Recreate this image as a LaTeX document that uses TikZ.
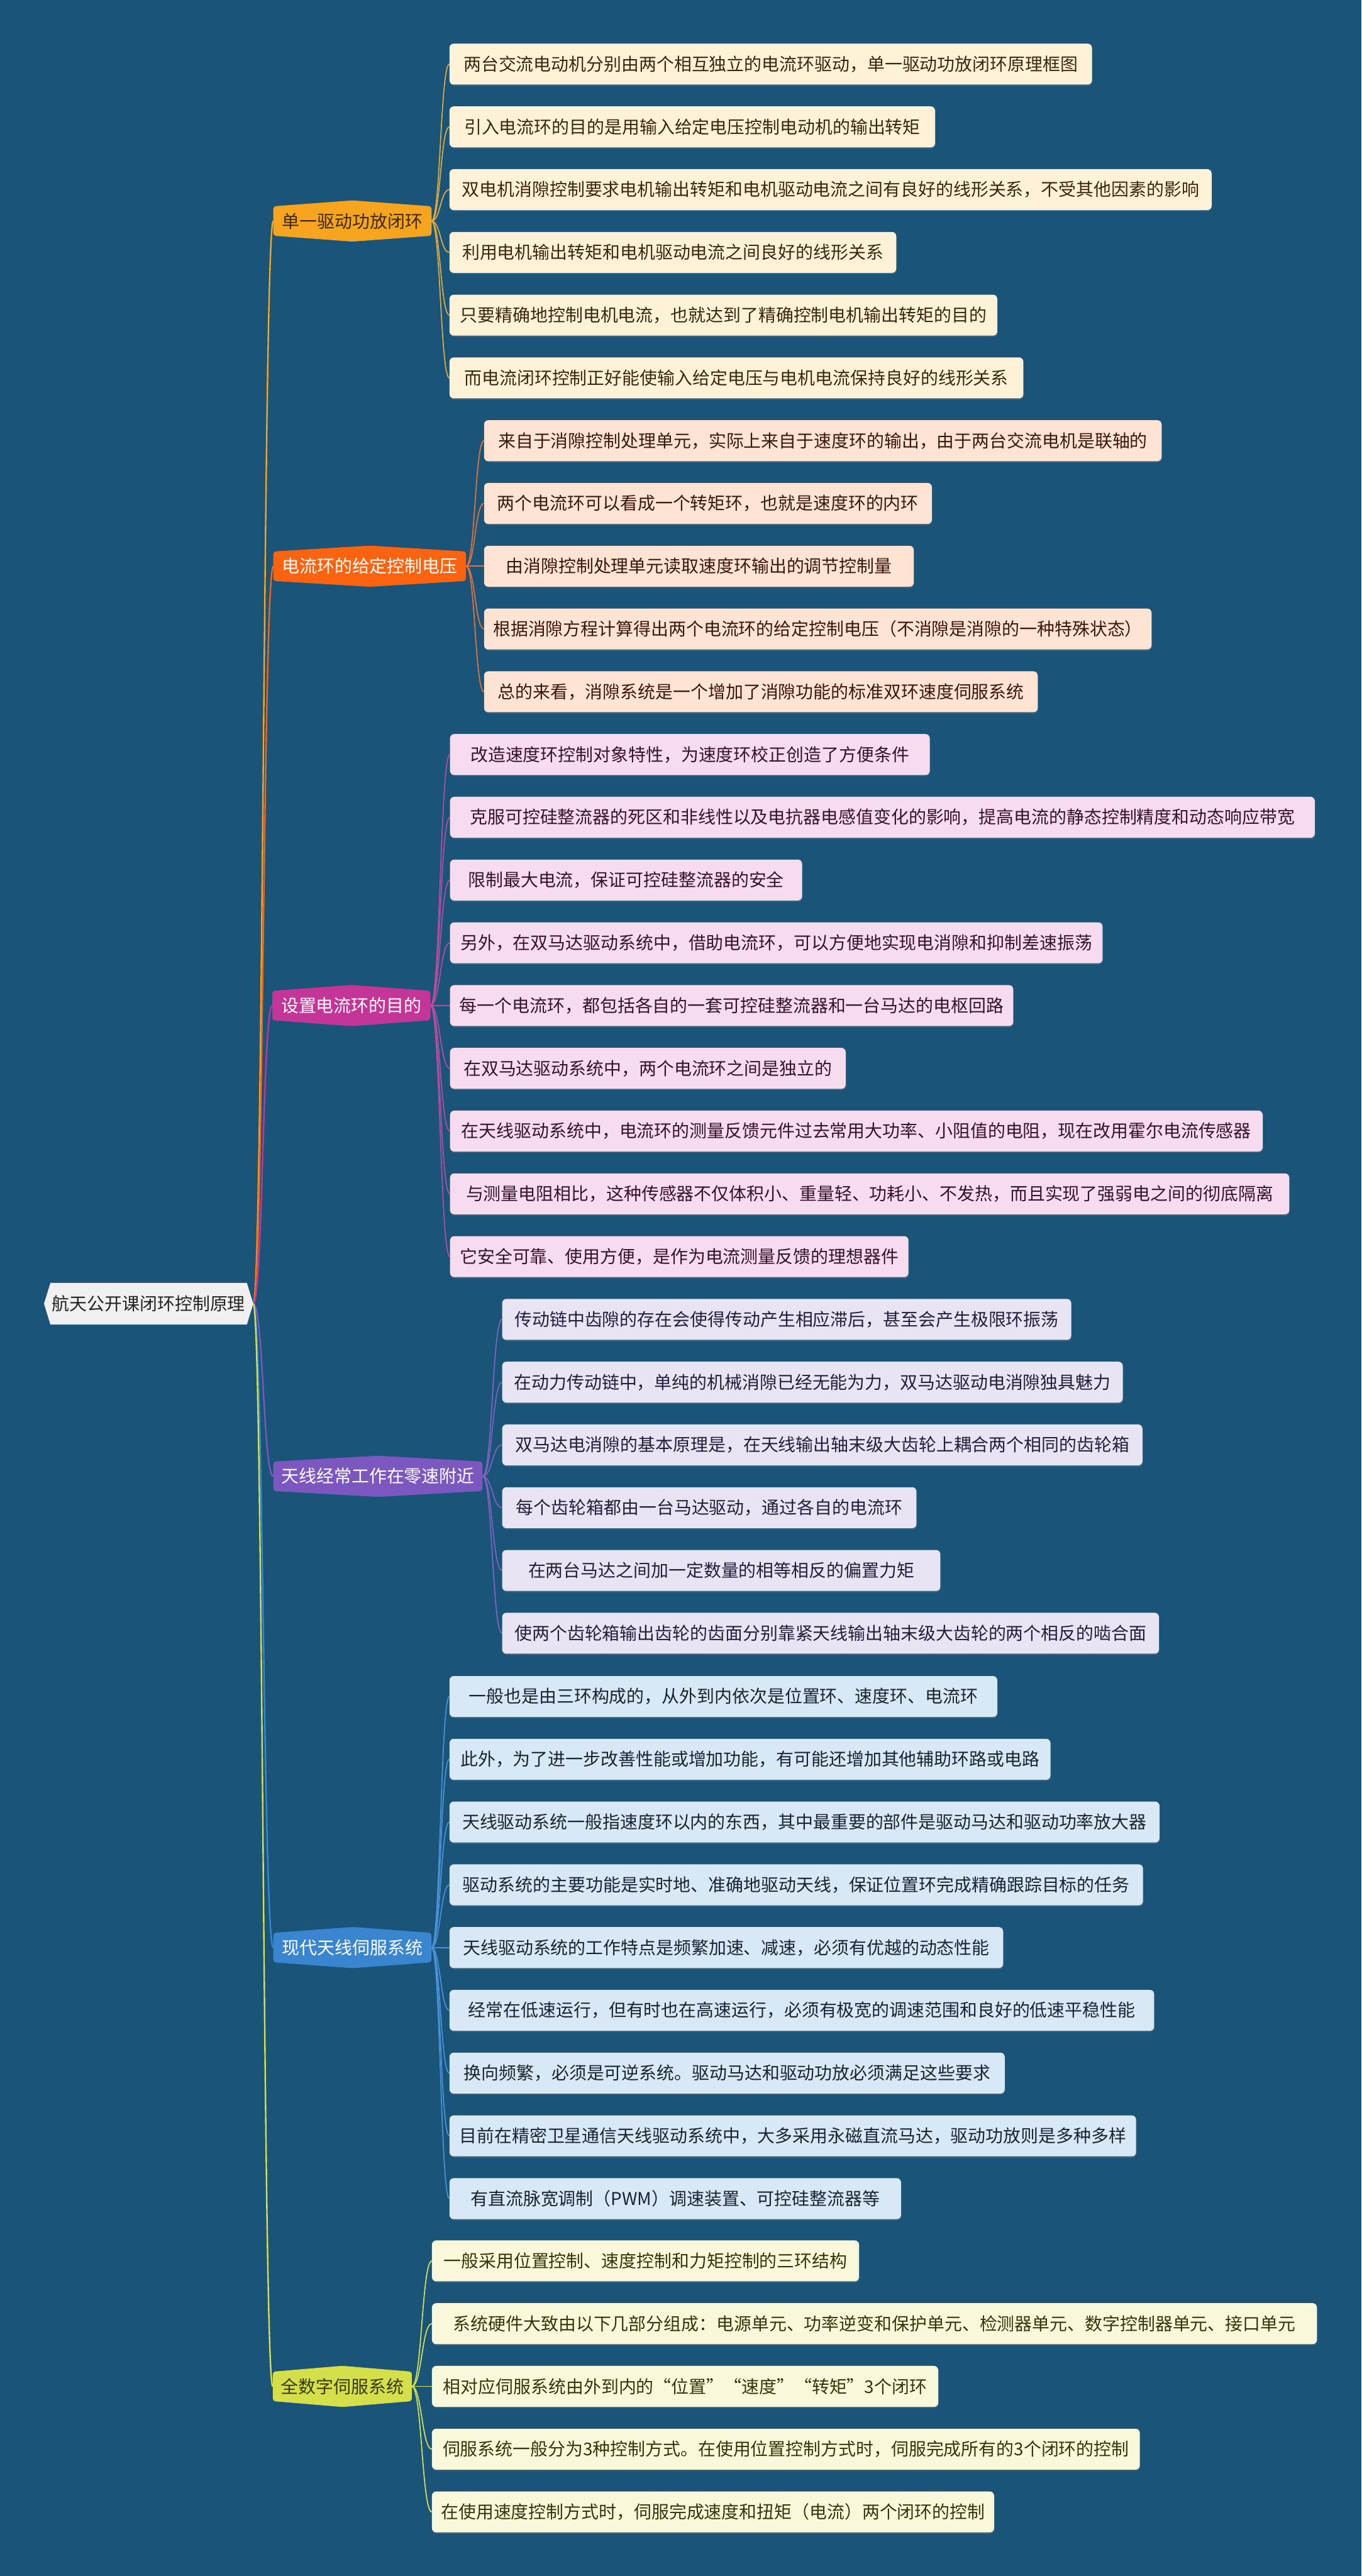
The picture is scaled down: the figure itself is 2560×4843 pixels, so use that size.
\documentclass[tikz,border=0pt]{standalone}
\usepackage{fontspec}
\setmainfont{Noto Sans CJK SC}
\usetikzlibrary{shadows,calc}
\definecolor{bgc}{HTML}{1A5479}
\definecolor{rootf}{HTML}{F0F0F0}
\definecolor{roott}{HTML}{222222}
\definecolor{cA}{HTML}{F7A51E}\definecolor{tA}{HTML}{3B2A10}\definecolor{fA}{HTML}{FFF2D7}\definecolor{ltA}{HTML}{3A2710}\definecolor{lA}{HTML}{E0AC40}
\definecolor{cB}{HTML}{FA630F}\definecolor{tB}{HTML}{FFFFFF}\definecolor{fB}{HTML}{FFE3D3}\definecolor{ltB}{HTML}{3A180B}\definecolor{lB}{HTML}{E7733A}
\definecolor{cC}{HTML}{C43598}\definecolor{tC}{HTML}{FFFFFF}\definecolor{fC}{HTML}{F7DCF0}\definecolor{ltC}{HTML}{36122B}\definecolor{lC}{HTML}{B44EA0}
\definecolor{cD}{HTML}{7C57BF}\definecolor{tD}{HTML}{FFFFFF}\definecolor{fD}{HTML}{E8E4F4}\definecolor{ltD}{HTML}{241E3A}\definecolor{lD}{HTML}{8064C0}
\definecolor{cE}{HTML}{3A85CF}\definecolor{tE}{HTML}{FFFFFF}\definecolor{fE}{HTML}{D9E8F5}\definecolor{ltE}{HTML}{182433}\definecolor{lE}{HTML}{4B92DA}
\definecolor{cF}{HTML}{D4DF4A}\definecolor{tF}{HTML}{3A3A10}\definecolor{fF}{HTML}{F9F8DA}\definecolor{ltF}{HTML}{36360B}\definecolor{lF}{HTML}{D7E25A}
\pgfdeclarelayer{bgl}\pgfdeclarelayer{lines}\pgfdeclarelayer{shapes}
\pgfsetlayers{bgl,lines,shapes,main}
\newcommand\fsz{\fontsize{33pt}{39pt}\selectfont}
\newcommand\sconn[3]{\draw[#3] let \p1=(#1), \p2=(#2) in (\p1) .. controls ({(\x1+\x2)/2},\y1) and ({(\x1+\x2)/2},\y2) .. (\p2);}
\newcommand\brshape[2]{\fill[#2, rounded corners=5pt] (#1.north west) -- ([yshift=11pt]#1.north) -- (#1.north east) -- (#1.south east) -- ([yshift=-11pt]#1.south) -- (#1.south west) -- cycle;}
\begin{document}
\begin{tikzpicture}[x=1pt,y=-1pt,
  leaf/.style={rounded corners=8pt, minimum height=77pt, inner xsep=12pt, inner ysep=0pt, anchor=west, font=\fsz, drop shadow={shadow xshift=1pt, shadow yshift=-2.5pt, opacity=0.35}},
  br/.style={inner xsep=14pt, minimum height=55pt, inner ysep=0pt, anchor=west, font=\fsz},
  leafA/.style={leaf, fill=fA, text=ltA}, leafB/.style={leaf, fill=fB, text=ltB},
  leafC/.style={leaf, fill=fC, text=ltC}, leafD/.style={leaf, fill=fD, text=ltD},
  leafE/.style={leaf, fill=fE, text=ltE}, leafF/.style={leaf, fill=fF, text=ltF},
  rl/.style={line width=2.8pt}, bl/.style={line width=2pt}]
\begin{pgfonlayer}{bgl}
\fill[bgc] (0,0) rectangle (2560,4843);
\end{pgfonlayer}
\useasboundingbox (0,0) rectangle (2560,4843);
% root
\node[minimum width=369pt, minimum height=78pt, inner sep=0pt, font=\fsz, text=roott] (root) at (279.5,2451) {航天公开课闭环控制原理};
\coordinate (rootR) at ([xshift=12pt]root.east);
% branches
\node[br, minimum width=297pt, text=tA] (bA) at (514,415.5) {单一驱动功放闭环};
\node[br, minimum width=362pt, text=tB] (bB) at (514,1064.5) {电流环的给定控制电压};
\node[br, minimum width=297pt, text=tC] (bC) at (512,1890.5) {设置电流环的目的};
\node[br, minimum width=393pt, text=tD] (bD) at (514,2775.5) {天线经常工作在零速附近};
\node[br, minimum width=297pt, text=tE] (bE) at (514,3661.5) {现代天线伺服系统};
\node[br, minimum width=261pt, text=tF] (bF) at (513,4486.5) {全数字伺服系统};
% group A
\node[leafA, minimum width=1208pt] (A1) at (845,120.5) {两台交流电动机分别由两个相互独立的电流环驱动，单一驱动功放闭环原理框图};
\node[leafA, minimum width=913pt] (A2) at (845,238.5) {引入电流环的目的是用输入给定电压控制电动机的输出转矩};
\node[leafA, minimum width=1433pt] (A3) at (845,356.5) {双电机消隙控制要求电机输出转矩和电机驱动电流之间有良好的线形关系，不受其他因素的影响};
\node[leafA, minimum width=840pt] (A4) at (845,474.5) {利用电机输出转矩和电机驱动电流之间良好的线形关系};
\node[leafA, minimum width=1030pt] (A5) at (845,592.5) {只要精确地控制电机电流，也就达到了精确控制电机输出转矩的目的};
\node[leafA, minimum width=1079pt] (A6) at (845,710.5) {而电流闭环控制正好能使输入给定电压与电机电流保持良好的线形关系};
% group B
\node[leafB, minimum width=1274pt] (B1) at (910,828.5) {来自于消隙控制处理单元，实际上来自于速度环的输出，由于两台交流电机是联轴的};
\node[leafB, minimum width=842pt] (B2) at (910,946.5) {两个电流环可以看成一个转矩环，也就是速度环的内环};
\node[leafB, minimum width=808pt] (B3) at (910,1064.5) {由消隙控制处理单元读取速度环输出的调节控制量};
\node[leafB, minimum width=1255pt] (B4) at (910,1182.5) {根据消隙方程计算得出两个电流环的给定控制电压（不消隙是消隙的一种特殊状态）};
\node[leafB, minimum width=1041pt] (B5) at (910,1300.5) {总的来看，消隙系统是一个增加了消隙功能的标准双环速度伺服系统};
% group C
\node[leafC, minimum width=902pt] (C1) at (846,1418.5) {改造速度环控制对象特性，为速度环校正创造了方便条件};
\node[leafC, minimum width=1626pt] (C2) at (846,1536.5) {克服可控硅整流器的死区和非线性以及电抗器电感值变化的影响，提高电流的静态控制精度和动态响应带宽};
\node[leafC, minimum width=662pt] (C3) at (846,1654.5) {限制最大电流，保证可控硅整流器的安全};
\node[leafC, minimum width=1227pt] (C4) at (846,1772.5) {另外，在双马达驱动系统中，借助电流环，可以方便地实现电消隙和抑制差速振荡};
\node[leafC, minimum width=1059pt] (C5) at (846,1890.5) {每一个电流环，都包括各自的一套可控硅整流器和一台马达的电枢回路};
\node[leafC, minimum width=744pt] (C6) at (846,2008.5) {在双马达驱动系统中，两个电流环之间是独立的};
\node[leafC, minimum width=1528pt] (C7) at (846,2126.5) {在天线驱动系统中，电流环的测量反馈元件过去常用大功率、小阻值的电阻，现在改用霍尔电流传感器};
\node[leafC, minimum width=1578pt] (C8) at (846,2244.5) {与测量电阻相比，这种传感器不仅体积小、重量轻、功耗小、不发热，而且实现了强弱电之间的彻底隔离};
\node[leafC, minimum width=862pt] (C9) at (846,2362.5) {它安全可靠、使用方便，是作为电流测量反馈的理想器件};
% group D
\node[leafD, minimum width=1070pt] (D1) at (944,2480.5) {传动链中齿隙的存在会使得传动产生相应滞后，甚至会产生极限环振荡};
\node[leafD, minimum width=1167pt] (D2) at (944,2598.5) {在动力传动链中，单纯的机械消隙已经无能为力，双马达驱动电消隙独具魅力};
\node[leafD, minimum width=1204pt] (D3) at (944,2716.5) {双马达电消隙的基本原理是，在天线输出轴末级大齿轮上耦合两个相同的齿轮箱};
\node[leafD, minimum width=779pt] (D4) at (944,2834.5) {每个齿轮箱都由一台马达驱动，通过各自的电流环};
\node[leafD, minimum width=824pt] (D5) at (944,2952.5) {在两台马达之间加一定数量的相等相反的偏置力矩};
\node[leafD, minimum width=1235pt] (D6) at (944,3070.5) {使两个齿轮箱输出齿轮的齿面分别靠紧天线输出轴末级大齿轮的两个相反的啮合面};
% group E
\node[leafE, minimum width=1030pt] (E1) at (845,3189.5) {一般也是由三环构成的，从外到内依次是位置环、速度环、电流环};
\node[leafE, minimum width=1130pt] (E2) at (845,3307.5) {此外，为了进一步改善性能或增加功能，有可能还增加其他辅助环路或电路};
\node[leafE, minimum width=1335pt] (E3) at (845,3425.5) {天线驱动系统一般指速度环以内的东西，其中最重要的部件是驱动马达和驱动功率放大器};
\node[leafE, minimum width=1304pt] (E4) at (845,3543.5) {驱动系统的主要功能是实时地、准确地驱动天线，保证位置环完成精确跟踪目标的任务};
\node[leafE, minimum width=1041pt] (E5) at (845,3661.5) {天线驱动系统的工作特点是频繁加速、减速，必须有优越的动态性能};
\node[leafE, minimum width=1325pt] (E6) at (845,3779.5) {经常在低速运行，但有时也在高速运行，必须有极宽的调速范围和良好的低速平稳性能};
\node[leafE, minimum width=1044pt] (E7) at (845,3897.5) {换向频繁，必须是可逆系统。驱动马达和驱动功放必须满足这些要求};
\node[leafE, minimum width=1291pt] (E8) at (845,4015.5) {目前在精密卫星通信天线驱动系统中，大多采用永磁直流马达，驱动功放则是多种多样};
\node[leafE, minimum width=849pt] (E9) at (845,4133.5) {有直流脉宽调制（PWM）调速装置、可控硅整流器等};
% group F
\node[leafF, minimum width=803pt] (F1) at (812,4250.5) {一般采用位置控制、速度控制和力矩控制的三环结构};
\node[leafF, minimum width=1664pt] (F2) at (812,4368.5) {系统硬件大致由以下几部分组成：电源单元、功率逆变和保护单元、检测器单元、数字控制器单元、接口单元};
\node[leafF, minimum width=952pt] (F3) at (812,4486.5) {相对应伺服系统由外到内的“位置”“速度”“转矩”3个闭环};
\node[leafF, minimum width=1331pt] (F4) at (812,4604.5) {伺服系统一般分为3种控制方式。在使用位置控制方式时，伺服完成所有的3个闭环的控制};
\node[leafF, minimum width=1057pt] (F5) at (812,4722.5) {在使用速度控制方式时，伺服完成速度和扭矩（电流）两个闭环的控制};
% shapes
\begin{pgfonlayer}{shapes}
\fill[rootf] (root.north west) -- (root.north east) -- (rootR) -- (root.south east) -- (root.south west) -- ([xshift=-12pt]root.west) -- cycle;
\brshape{bA}{cA}\brshape{bB}{cB}\brshape{bC}{cC}\brshape{bD}{cD}\brshape{bE}{cE}\brshape{bF}{cF}
\end{pgfonlayer}
% connectors
\begin{pgfonlayer}{lines}
\sconn{rootR}{bA.west}{rl, draw=cA}
\sconn{rootR}{bB.west}{rl, draw=cB}
\sconn{rootR}{bC.west}{rl, draw=cC}
\sconn{rootR}{bD.west}{rl, draw=cD}
\sconn{rootR}{bE.west}{rl, draw=cE}
\sconn{rootR}{bF.west}{rl, draw=cF}
\foreach \k in {1,...,6} {\sconn{bA.east}{A\k.west}{bl, draw=lA}}
\foreach \k in {1,...,5} {\sconn{bB.east}{B\k.west}{bl, draw=lB}}
\foreach \k in {1,...,9} {\sconn{bC.east}{C\k.west}{bl, draw=lC}}
\foreach \k in {1,...,6} {\sconn{bD.east}{D\k.west}{bl, draw=lD}}
\foreach \k in {1,...,9} {\sconn{bE.east}{E\k.west}{bl, draw=lE}}
\foreach \k in {1,...,5} {\sconn{bF.east}{F\k.west}{bl, draw=lF}}
\end{pgfonlayer}
\end{tikzpicture}
\end{document}
